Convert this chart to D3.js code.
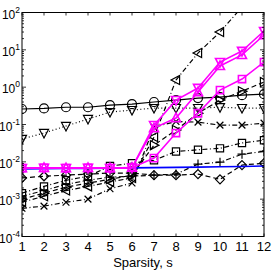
<!DOCTYPE html>
<html lang="en">
<head>
<meta charset="UTF-8">
<title>Sparsity plot</title>
<script src="https://d3js.org/d3.v7.min.js"></script>
<style>
  body { margin: 0; background: #fff; }
  text { font-family: "Liberation Sans", Arial, sans-serif; fill: #000; }
</style>
</head>
<body>
<div id="chart"></div>
<script>
// sparsity levels
const sparsity = [1, 2, 3, 4, 5, 6, 7, 8, 9, 10, 11, 12];
const yTickExps = [-4, -3, -2, -1, 0, 1, 2];

// black series
const circleVals  = [0.26, 0.27, 0.29, 0.29, 0.33, 0.35, 0.40, 0.45, 0.51, 0.54, 0.61, 0.65];
const downTriVals = [0.041, 0.059, 0.091, 0.14, 0.215, 0.243, 0.275, 0.275, 0.275, 0.29, 0.275, 0.275];
const leftTriVals = [0.00083, 0.0012, 0.0017, 0.0022, 0.0029, 0.0037, 0.046, 1.55, 8.2, 30, 140, 500];
const rightTriVals = [0.001, 0.00145, 0.0021, 0.0027, 0.0034, 0.0044, 0.028, 0.071, 0.2, 0.45, 0.78, 1.37];
const crossVals   = [0.00057, 0.00065, 0.00083, 0.001, 0.0019, 0.0027, 0.085, 0.12, 0.116, 0.096, 0.096, 0.109];
const squareVals  = [0.00145, 0.0022, 0.0032, 0.0041, 0.0077, 0.0092, 0.011, 0.019, 0.021, 0.023, 0.032, 0.038];
const plusVals    = [0.0012, 0.0017, 0.0025, 0.0032, 0.0039, 0.0041, 0.0044, 0.0047, 0.0087, 0.0098, 0.016, 0.019];
const diamondVals = [0.0037, 0.0041, 0.0044, 0.0047, 0.005, 0.005, 0.0044, 0.0044, 0.0047, 0.0034, 0.0082, 0.0092];
// blue reference line
const blueVals    = [0.0064, 0.0065, 0.0066, 0.0067, 0.0068, 0.0069, 0.007, 0.0071, 0.0072, 0.0074, 0.0075, 0.0077];
// magenta series
const magDownVals = [0.0068, 0.0069, 0.0068, 0.0069, 0.0068, 0.007, 0.096, 0.45, 0.95, 4.7, 9.3, 31.9];
const magUpVals   = [0.0068, 0.0069, 0.0068, 0.0069, 0.0068, 0.007, 0.08, 0.149, 0.74, 3.7, 7.3, 24.9];
const magSqVals   = [0.0068, 0.0069, 0.0068, 0.0069, 0.0068, 0.007, 0.0126, 0.059, 0.2, 0.835, 1.65, 4.7];

const series = [
  { vals: circleVals, marker: 'circle', color: '#000', dash: null, w: 1.2 },
  { vals: downTriVals, marker: 'down', color: '#000', dash: '1,2.5', w: 1.2 },
  { vals: leftTriVals, marker: 'left', color: '#000', dash: '5,2.5,1,2.5', w: 1.2 },
  { vals: rightTriVals, marker: 'right', color: '#000', dash: '5,3', w: 1.2 },
  { vals: crossVals, marker: 'x', color: '#000', dash: '5,2.5,1,2.5', w: 1.2 },
  { vals: squareVals, marker: 'square', color: '#000', dash: '5,2.5,1,2.5', w: 1.2 },
  { vals: plusVals, marker: 'plus', color: '#000', dash: '5,2.5,1,2.5', w: 1.2 },
  { vals: diamondVals, marker: 'diamond', color: '#000', dash: '5,3', w: 1.2 },
  { vals: blueVals, marker: null, color: '#0000ff', dash: null, w: 1.6 },
  { vals: magSqVals, marker: 'square', color: '#ff00ff', dash: null, w: 1.6 },
  { vals: magUpVals, marker: 'up', color: '#ff00ff', dash: null, w: 1.6 },
  { vals: magDownVals, marker: 'down', color: '#ff00ff', dash: null, w: 1.6 }
];

const width = 272, height = 273;
const plotLeft = 22, plotRight = 264, plotTop = 12.5, plotBottom = 236.5;

const svg = d3.select('#chart').append('svg')
  .attr('width', width).attr('height', height);

const x = d3.scaleLinear().domain([1, 12]).range([plotLeft, plotRight]);
const y = d3.scaleLog().domain([1e-4, 1e2]).range([plotBottom, plotTop]);

svg.append('clipPath').attr('id', 'plotclip')
  .append('rect').attr('x', plotLeft).attr('y', plotTop)
  .attr('width', plotRight - plotLeft).attr('height', plotBottom - plotTop);

// marker path, r is half size
const markerPath = (type, r) => {
  switch (type) {
    case 'circle': return `M${-r},0A${r},${r} 0 1,0 ${r},0A${r},${r} 0 1,0 ${-r},0Z`;
    case 'down': return `M${-r},${-r * 0.8}L${r},${-r * 0.8}L0,${r * 1.1}Z`;
    case 'up': return `M${-r},${r * 0.8}L${r},${r * 0.8}L0,${-r * 1.1}Z`;
    case 'left': return `M${r * 0.8},${-r}L${r * 0.8},${r}L${-r * 1.1},0Z`;
    case 'right': return `M${-r * 0.8},${-r}L${-r * 0.8},${r}L${r * 1.1},0Z`;
    case 'square': { const s = r * 0.8; return `M${-s},${-s}H${s}V${s}H${-s}Z`; }
    case 'diamond': return `M0,${-r}L${r},0L0,${r}L${-r},0Z`;
    case 'x': { const s = r * 0.75; return `M${-s},${-s}L${s},${s}M${-s},${s}L${s},${-s}`; }
    case 'plus': return `M${-r},0H${r}M0,${-r}V${r}`;
  }
  return '';
};

const plot = svg.append('g').attr('clip-path', 'url(#plotclip)');

const line = d3.line()
  .x((d, i) => x(sparsity[i]))
  .y(d => y(d));

series.forEach(s => {
  plot.append('path')
    .attr('d', line(s.vals))
    .attr('fill', 'none')
    .attr('stroke', s.color)
    .attr('stroke-width', s.w)
    .attr('stroke-dasharray', s.dash);
  if (s.marker) {
    plot.selectAll(null)
      .data(s.vals)
      .enter().append('path')
      .attr('transform', (d, i) => `translate(${x(sparsity[i])},${y(d)})`)
      .attr('d', markerPath(s.marker, 4.5))
      .attr('fill', 'none')
      .attr('stroke', s.color)
      .attr('stroke-width', s.w);
  }
});

// axes box
svg.append('rect')
  .attr('x', plotLeft).attr('y', plotTop)
  .attr('width', plotRight - plotLeft).attr('height', plotBottom - plotTop)
  .attr('fill', 'none').attr('stroke', '#000').attr('stroke-width', 1);

const axes = svg.append('g').attr('stroke', '#000').attr('stroke-width', 0.8);

// x ticks (inward, top and bottom)
sparsity.forEach(v => {
  axes.append('line').attr('x1', x(v)).attr('x2', x(v)).attr('y1', plotBottom).attr('y2', plotBottom - 3);
  axes.append('line').attr('x1', x(v)).attr('x2', x(v)).attr('y1', plotTop).attr('y2', plotTop + 3);
  svg.append('text')
    .attr('x', x(v)).attr('y', plotBottom + 14.5)
    .attr('text-anchor', 'middle')
    .attr('font-size', 13)
    .text(v);
});

// y ticks: major with labels, minor log ticks
yTickExps.forEach(e => {
  const yy = y(Math.pow(10, e));
  axes.append('line').attr('x1', plotLeft).attr('x2', plotLeft + 4).attr('y1', yy).attr('y2', yy);
  axes.append('line').attr('x1', plotRight).attr('x2', plotRight - 4).attr('y1', yy).attr('y2', yy);
  const t = svg.append('text')
    .attr('x', plotLeft - 2).attr('y', yy + 6)
    .attr('text-anchor', 'end')
    .attr('font-size', 12);
  t.append('tspan').text('10');
  t.append('tspan').attr('dy', -6).attr('font-size', 8.5).text(e);
  if (e < 2) {
    for (let k = 2; k <= 9; k++) {
      const ym = y(k * Math.pow(10, e));
      axes.append('line').attr('x1', plotLeft).attr('x2', plotLeft + 2).attr('y1', ym).attr('y2', ym);
      axes.append('line').attr('x1', plotRight).attr('x2', plotRight - 2).attr('y1', ym).attr('y2', ym);
    }
  }
});

svg.append('text')
  .attr('x', (plotLeft + plotRight) / 2).attr('y', 266.5)
  .attr('text-anchor', 'middle')
  .attr('font-size', 13)
  .text('Sparsity, s');
</script>
</body>
</html>
